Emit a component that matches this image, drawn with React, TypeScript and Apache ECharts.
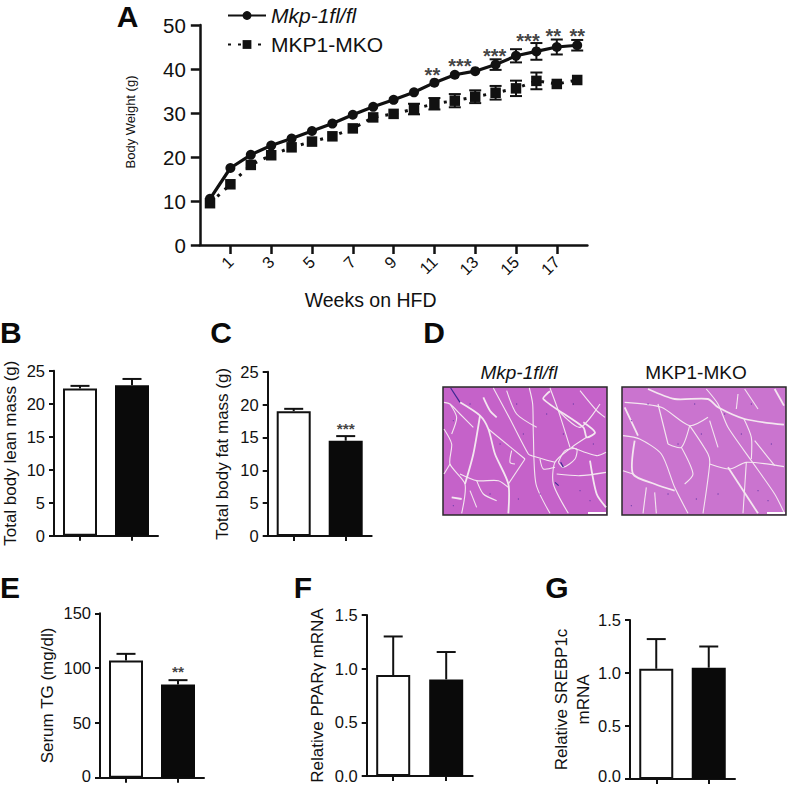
import React, { useEffect, useRef } from "react";
import * as echarts from "echarts";

const FONT = "'Liberation Sans', Arial, sans-serif";
const INK = "#111111";

const weeks = Array.from({ length: 19 }, (_, i) => String(i));
const wtName = "Mkp-1fl/fl";
const koName = "MKP1-MKO";
const wtWeight = [10.5, 17.5, 20.5, 22.6, 24.2, 25.9, 27.6, 29.6, 31.4, 33, 34.7, 36.9, 38.7, 39.5, 41, 43, 44, 45, 45.4];
const koWeight = [9.5, 13.8, 18.2, 20.4, 22.2, 23.5, 24.7, 26.5, 29, 29.8, 30.9, 32.1, 32.8, 33.7, 34.6, 35.6, 37.3, 36.6, 37.5];
const wtErr = [0, 0, 0, 0, 0, 0, 0, 0, 0, 0, 0, 0, 0, 0, 1.2, 1.5, 1.9, 1.7, 1.2];
const koErr = [0, 0, 0, 0, 0, 0, 0, 0, 0, 0, 1.2, 1.3, 1.5, 1.45, 1.55, 1.75, 1.9, 0, 0];
const sigMarks: [number, number, string, number][] = [
  [11, 38.6, "**", -2],
  [12, 40.7, "***", 5],
  [14, 43.0, "***", -1],
  [15, 46.3, "***", 12],
  [17, 47.5, "**", -3.5],
  [18, 47.5, "**", 0],
];

const barGroups = [wtName, koName];
const leanMass = [22.3, 22.8];
const leanErr = [0.4, 0.95];
const fatMass = [19.0, 14.5];
const fatErr = [0.35, 0.7];
const serumTG = [107, 85];
const serumErr = [6, 4];
const ppar = [0.94, 0.9];
const pparErr = [0.36, 0.255];
const srebp = [1.04, 1.05];
const srebpErr = [0.28, 0.2];

type P = [number, number];
const wtFibres: P[][] = [
  [[60, 55], [120, 95], [145, 135], [165, 210], [205, 300], [205, 388]],
  [[160, 12], [210, 105], [265, 210], [275, 215], [345, 235]],
  [[268, 12], [278, 60], [280, 150], [288, 300], [330, 388]],
  [[330, 12], [355, 80], [390, 190]],
  [[12, 135], [35, 180], [30, 240], [75, 300], [65, 388]],
  [[120, 95], [100, 210], [75, 300]],
  [[255, 225], [205, 300]],
  [[145, 135], [255, 225]],
  [[12, 270], [30, 240]],
  [[420, 20], [470, 80], [495, 100]],
  [[330, 22], [310, 45], [430, 130], [440, 160], [465, 145], [430, 115]],
  [[440, 160], [395, 190], [345, 235], [340, 300], [385, 388]],
  [[355, 235], [375, 200], [410, 195], [405, 225], [370, 250], [355, 235]],
  [[395, 190], [470, 215], [498, 205]],
  [[350, 270], [420, 275], [498, 265]],
  [[450, 230], [470, 330], [498, 370]],
  [[30, 60], [50, 100], [35, 150]],
  [[60, 270], [110, 290], [175, 290], [205, 310]],
  [[110, 290], [130, 330], [170, 350]],
  [[215, 200], [210, 235], [225, 240]],
  [[130, 40], [150, 80], [170, 100]],
  [[300, 225], [310, 255], [345, 250]],
  [[200, 20], [230, 90], [290, 130]],
  [[355, 80], [420, 130], [480, 60]],
  [[12, 55], [30, 60], [60, 90], [100, 130]],
  [[35, 340], [65, 345]],
  [[90, 320], [110, 370]],
];
const wtDark: P[][] = [
  [[32, 12], [60, 55]],
  [[362, 235], [370, 250]],
  [[345, 295], [356, 305]],
];
const koFibres: P[][] = [
  [[90, 15], [170, 45], [270, 45], [300, 70], [380, 105], [498, 122]],
  [[20, 55], [130, 70], [215, 125], [270, 100]],
  [[265, 15], [300, 60], [330, 130], [400, 230], [470, 330], [498, 385]],
  [[215, 125], [190, 190], [150, 180]],
  [[15, 155], [65, 165], [130, 210], [170, 310], [210, 388]],
  [[50, 170], [45, 270], [110, 300], [170, 320]],
  [[190, 190], [225, 270], [200, 300]],
  [[215, 125], [270, 210], [275, 240], [255, 388]],
  [[275, 240], [335, 255], [385, 235], [498, 248]],
  [[385, 235], [375, 388]],
  [[330, 250], [420, 388]],
  [[380, 15], [420, 75]],
  [[378, 105], [400, 160], [400, 225]],
  [[275, 110], [300, 190]],
  [[360, 30], [355, 75]],
  [[470, 15], [498, 65]],
  [[15, 260], [45, 270]],
  [[85, 310], [75, 388]],
  [[110, 325], [115, 388]],
  [[120, 60], [150, 180]],
  [[20, 70], [60, 155]],
  [[410, 170], [450, 220], [470, 245]],
];
const nuclei: P[] = [
  [40, 110], [90, 160], [130, 250], [180, 180], [230, 60], [250, 150], [320, 90], [400, 60], [460, 180], [300, 330],
  [60, 220], [150, 330], [235, 345], [420, 320], [450, 350], [370, 150], [90, 60], [190, 40], [340, 370], [40, 365],
];

const grids = [
  { left: 199.8, top: 25, width: 387.6, height: 220 },
  { left: 54, top: 370.7, width: 104, height: 165 },
  { left: 267.7, top: 371.7, width: 104, height: 164.3 },
  { left: 100, top: 613.3, width: 104, height: 164.4 },
  { left: 366.7, top: 615, width: 106, height: 161 },
  { left: 630, top: 620, width: 105, height: 159 },
];

function errorBars(gridIndex: number, points: number[][], capHalf: number, width: number) {
  return {
    type: "custom",
    xAxisIndex: gridIndex,
    yAxisIndex: gridIndex,
    clip: false,
    z: 1,
    silent: true,
    encode: { x: 0, y: [1, 2] },
    data: points,
    renderItem: (_: any, api: any) => {
      const x = api.value(0);
      const a = api.coord([x, api.value(1)]);
      const b = api.coord([x, api.value(2)]);
      const style = { stroke: INK, lineWidth: width, fill: "none" };
      const bothCaps = api.value(3) === 1;
      const children: any[] = [
        { type: "line", shape: { x1: a[0], y1: a[1], x2: b[0], y2: b[1] }, style },
        { type: "line", shape: { x1: b[0] - capHalf, y1: b[1], x2: b[0] + capHalf, y2: b[1] }, style },
      ];
      if (bothCaps) {
        children.push({ type: "line", shape: { x1: a[0] - capHalf, y1: a[1], x2: a[0] + capHalf, y2: a[1] }, style });
      }
      return { type: "group", children };
    },
  };
}

function barPanel(gridIndex: number, values: number[], errs: number[]) {
  return [
    {
      type: "bar",
      xAxisIndex: gridIndex,
      yAxisIndex: gridIndex,
      barWidth: 34,
      z: 2,
      silent: true,
      data: values.map((v, i) => ({
        value: v,
        itemStyle:
          i === 0
            ? { color: "#ffffff", borderColor: INK, borderWidth: 2 }
            : { color: "#0a0a0a", borderColor: "#0a0a0a", borderWidth: 2 },
      })),
    },
    errorBars(gridIndex, values.map((v, i) => [i, v, v + errs[i], 0]), 9.5, 2),
  ];
}

function barX(gridIndex: number) {
  return {
    type: "category",
    gridIndex,
    data: barGroups,
    axisLine: { lineStyle: { color: INK, width: 2 } },
    axisTick: { show: true, alignWithLabel: true, interval: 0, length: 5, lineStyle: { color: INK, width: 2 } },
    axisLabel: { show: false, interval: 0 },
  };
}

function barY(
  gridIndex: number,
  name: string,
  max: number,
  interval: number,
  nameGap: number,
  decimals: number,
  minLift: number
) {
  return {
    type: "value",
    gridIndex,
    min: 0,
    max,
    interval,
    name,
    nameLocation: "middle",
    nameGap,
    nameTextStyle: { fontFamily: FONT, fontSize: 17, color: INK, lineHeight: 21.5 },
    splitLine: { show: false },
    axisLine: { show: true, lineStyle: { color: INK, width: 2 } },
    axisTick: { show: true, length: 5, lineStyle: { color: INK, width: 2 } },
    axisLabel: {
      fontFamily: FONT,
      fontSize: 16.5,
      color: INK,
      margin: 9,
      formatter: (v: number) => (v === 0 && minLift > 0 ? `{low|${v.toFixed(decimals)}}` : v.toFixed(decimals)),
      rich: { low: { fontFamily: FONT, fontSize: 16.5, color: INK, padding: [0, 0, minLift * 2, 0] } },
    },
  };
}

function tissue(ox: number, oy: number, x: number, y: number, w: number, h: number, color: string, fibres: P[][], dark: P[][]) {
  const map = (pts: P[]) => pts.map((p) => [ox + p[0] / 3, oy + p[1] / 3]);
  const out: any[] = [
    { type: "rect", shape: { x, y, width: w, height: h }, style: { fill: color, stroke: "#2a2a2a", lineWidth: 1.5 }, z: 5 },
  ];
  fibres.forEach((f, i) =>
    out.push({
      type: "polyline",
      shape: { points: map(f), smooth: 0.25 },
      style: { stroke: "#f4e6f0", lineWidth: i % 5 === 0 ? 1.8 : 1.1, fill: "none" },
      z: 6,
    })
  );
  dark.forEach((f) =>
    out.push({ type: "polyline", shape: { points: map(f) }, style: { stroke: "#3d2a92", lineWidth: 1.2, fill: "none" }, z: 7 })
  );
  nuclei.forEach((n) => {
    const [[cx, cy]] = map([n]);
    out.push({ type: "circle", shape: { cx, cy, r: 0.6 }, style: { fill: "#6a3aa8" }, z: 7 });
  });
  out.push({ type: "rect", shape: { x: x + w - 19, y: y + h - 3, width: 18, height: 2 }, style: { fill: "#ffffff" }, z: 7 });
  return out;
}

function letter(text: string, x: number, y: number, align = "center") {
  return {
    type: "text",
    x,
    y,
    style: { text, fontFamily: FONT, fontWeight: "bold", fontSize: 30, fill: "#0a0a0a", align, verticalAlign: "middle" },
    z: 10,
  };
}

function caption(text: string, x: number, y: number, italic: boolean) {
  return {
    type: "text",
    x,
    y,
    style: { text, fontFamily: FONT, fontSize: 19, fontStyle: italic ? "italic" : "normal", fill: INK, align: "center", verticalAlign: "middle" },
    z: 10,
  };
}

export default function App() {
  const ref = useRef<HTMLDivElement>(null);
  useEffect(() => {
    const chart = echarts.init(ref.current!, undefined, { renderer: "svg" });
    const showOdd = (i: number) => i % 2 === 1;
    const withErr = (vals: number[], errs: number[]) =>
      vals.map((v, i) => [i, v - errs[i], v + errs[i], 1]).filter((_, i) => errs[i] > 0);
    chart.setOption({
      animation: false,
      backgroundColor: "#ffffff",
      grid: grids.map((g) => ({ ...g, containLabel: false, outerBoundsMode: "none" })),
      legend: {
        orient: "vertical",
        left: 222,
        top: 0,
        itemWidth: 38,
        itemHeight: 11,
        itemGap: 8,
        selectedMode: false,
        textStyle: { fontFamily: FONT, fontSize: 21, color: INK },
        data: [{ name: wtName, textStyle: { fontStyle: "italic", fontSize: 21 } }, { name: koName }],
      },
      xAxis: [
        {
          type: "category",
          gridIndex: 0,
          data: weeks,
          name: "Weeks on HFD",
          nameLocation: "middle",
          nameGap: 45,
          nameTextStyle: { fontFamily: FONT, fontSize: 19.5, color: INK, padding: [0, 46, 0, 0] },
          axisLine: { lineStyle: { color: INK, width: 2.5 } },
          axisTick: { show: true, alignWithLabel: true, length: 9, interval: (i: number) => showOdd(i), lineStyle: { color: INK, width: 2.5 } },
          axisLabel: { interval: (i: number) => showOdd(i), rotate: 45, fontFamily: FONT, fontSize: 16.5, color: INK, margin: 14 },
        },
        barX(1),
        barX(2),
        barX(3),
        barX(4),
        barX(5),
      ],
      yAxis: [
        {
          type: "value",
          gridIndex: 0,
          min: 0,
          max: 50,
          interval: 10,
          name: "Body Weight (g)",
          nameLocation: "middle",
          nameGap: 63,
          nameTextStyle: { fontFamily: FONT, fontSize: 13, color: INK, padding: [0, 0, 0, 26] },
          splitLine: { show: false },
          axisLine: { show: true, lineStyle: { color: INK, width: 2.5 } },
          axisTick: { show: true, length: 9, lineStyle: { color: INK, width: 2.5 } },
          axisLabel: { fontFamily: FONT, fontSize: 20.5, color: INK, margin: 14 },
        },
        barY(1, "Total body lean mass (g)", 25, 5, 33, 0, 0),
        barY(2, "Total body fat mass (g)", 25, 5, 34, 0, 0),
        barY(3, "Serum TG (mg/dl)", 150, 50, 42, 0, 2),
        barY(4, "Relative PPARγ mRNA", 1.5, 0.5, 38, 1, 0),
        barY(5, "Relative SREBP1c\nmRNA", 1.5, 0.5, 32, 1, 3.5),
      ],
      series: [
        errorBars(0, withErr(wtWeight, wtErr), 6, 2),
        errorBars(0, withErr(koWeight, koErr), 6, 2),
        {
          type: "line",
          name: koName,
          xAxisIndex: 0,
          yAxisIndex: 0,
          data: koWeight,
          symbol: "rect",
          symbolSize: 10.5,
          z: 3,
          lineStyle: { color: INK, width: 3, type: [3, 7] },
          itemStyle: { color: INK },
        },
        {
          type: "line",
          name: wtName,
          xAxisIndex: 0,
          yAxisIndex: 0,
          data: wtWeight,
          symbol: "circle",
          symbolSize: 10,
          z: 4,
          lineStyle: { color: INK, width: 3.2 },
          itemStyle: { color: INK },
        },
        {
          type: "scatter",
          xAxisIndex: 0,
          yAxisIndex: 0,
          symbolSize: 1,
          silent: true,
          itemStyle: { color: "transparent" },
          data: sigMarks.map((m) => ({
            value: [m[0], m[1]],
            label: { show: true, formatter: m[2], position: "inside", offset: [m[3], 0], fontFamily: FONT, fontSize: 20, fontWeight: "bold", color: INK },
          })),
        },
        ...barPanel(1, leanMass, leanErr),
        ...barPanel(2, fatMass, fatErr),
        ...barPanel(3, serumTG, serumErr),
        ...barPanel(4, ppar, pparErr),
        ...barPanel(5, srebp, srebpErr),
        {
          type: "scatter",
          xAxisIndex: 2,
          yAxisIndex: 2,
          symbolSize: 1,
          silent: true,
          itemStyle: { color: "transparent" },
          data: [{ value: [1, 16.3], label: { show: true, formatter: "***", position: "inside", fontFamily: FONT, fontSize: 15.5, fontWeight: "bold", color: INK } }],
        },
        {
          type: "scatter",
          xAxisIndex: 3,
          yAxisIndex: 3,
          symbolSize: 1,
          silent: true,
          itemStyle: { color: "transparent" },
          data: [{ value: [1, 97], label: { show: true, formatter: "**", position: "inside", fontFamily: FONT, fontSize: 15.5, fontWeight: "bold", color: INK } }],
        },
      ],
      graphic: [
        letter("A", 127.5, 16),
        letter("B", 0, 332, "left"),
        letter("C", 221, 332),
        letter("D", 434, 332),
        letter("E", 0, 587, "left"),
        letter("F", 303, 587),
        letter("G", 557, 587),
        caption(wtName, 519, 372, true),
        caption(koName, 696, 372, false),
        ...tissue(440, 384, 443, 387, 164, 128, "#c562c9", wtFibres, wtDark),
        ...tissue(618, 384, 622, 387, 164, 128, "#ca74cf", koFibres, []),
      ],
    });
    return () => chart.dispose();
  }, []);
  return <div ref={ref} style={{ position: "absolute", left: 0, top: 0, width: 787, height: 785 }} />;
}
